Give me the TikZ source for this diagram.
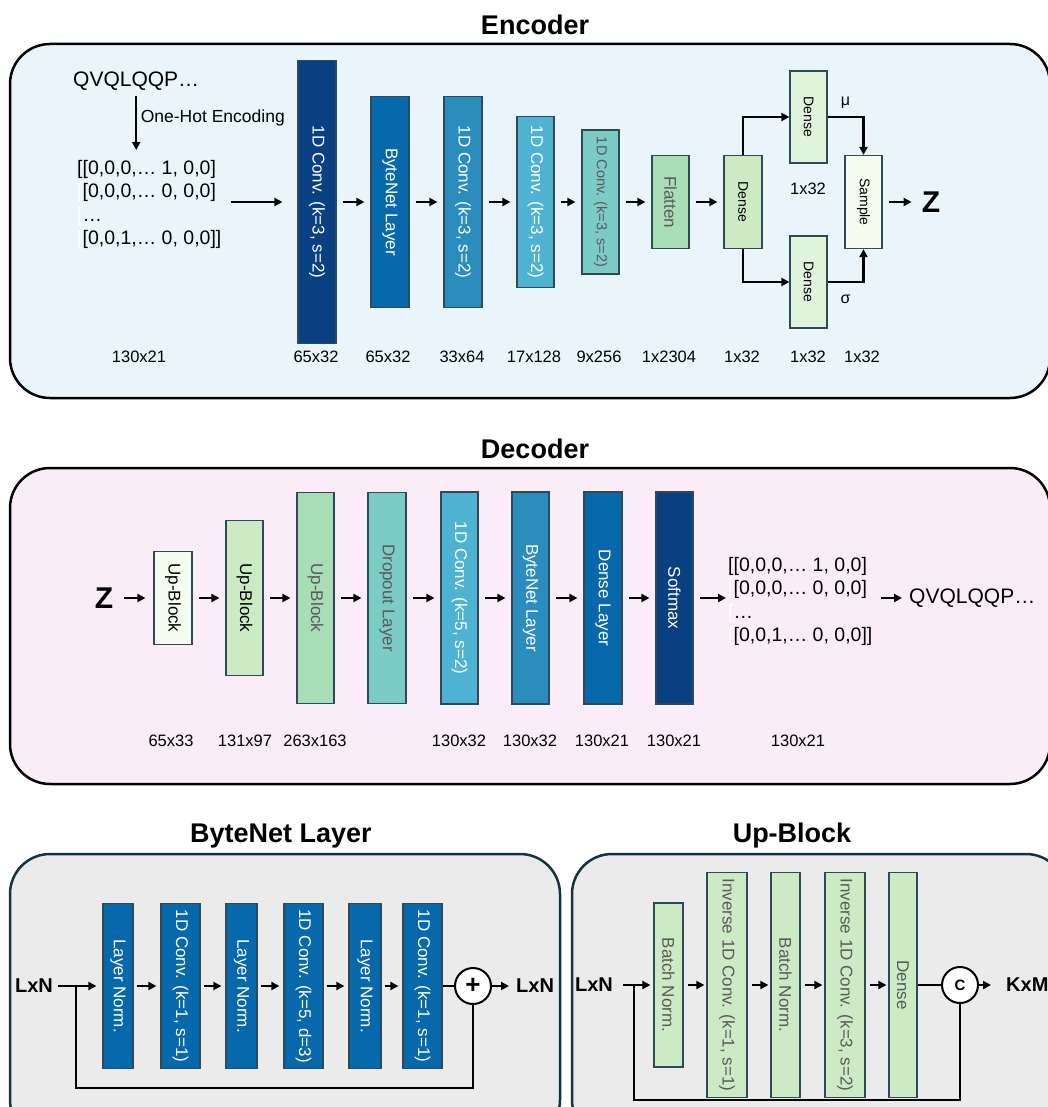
\documentclass[tikz,border=0pt]{standalone}
\usepackage{fontspec}
\setmainfont{Liberation Sans}
\usetikzlibrary{arrows.meta}
\definecolor{gnA}{HTML}{084081}
\definecolor{gnB}{HTML}{0868AC}
\definecolor{gnC}{HTML}{2B8CBE}
\definecolor{gnD}{HTML}{4EB3D3}
\definecolor{gnE}{HTML}{7BCCC4}
\definecolor{gnF}{HTML}{A8DDB5}
\definecolor{gnG}{HTML}{CCEBC5}
\definecolor{gnH}{HTML}{E0F3DB}
\definecolor{gnI}{HTML}{F7FCF0}
\definecolor{encbg}{HTML}{EAF5FB}
\definecolor{decbg}{HTML}{FBEDF7}
\definecolor{subbg}{HTML}{EBEBEB}
\definecolor{subline}{HTML}{16323F}
\definecolor{boxline}{HTML}{2E4A58}
\definecolor{txtgray}{HTML}{595959}
\newcommand{\vtext}[1]{\rotatebox{-90}{#1}}
\newcommand{\fsz}[1]{\fontsize{#1}{#1}\selectfont}
\begin{document}
\begin{tikzpicture}[x=1pt,y=-1pt,
  panel/.style={line width=2.5pt,rounded corners=40pt},
  blk/.style={draw=boxline,line width=1.2pt,inner sep=0pt,font=\fsz{17}},
  arr/.style={line width=2.5pt,-{Triangle[length=8pt,width=8pt]},shorten >=6pt,shorten <=6pt},
  wire/.style={line width=2.5pt},
  tip/.style={line width=2.5pt,-{Triangle[length=8pt,width=8pt]}},
  dim/.style={font=\fsz{16.5}},
  ttl/.style={font=\bfseries\fsz{27}},
  bigz/.style={font=\bfseries\fsz{30},inner sep=0pt},
  io/.style={font=\bfseries\fsz{20},inner sep=0pt},
  mtx/.style={anchor=north west,inner sep=0pt,align=left,font=\fontsize{19.5}{23.5}\selectfont},
  op/.style={circle,draw=black,fill=white,line width=2pt,minimum size=36pt,inner sep=0pt}]
\useasboundingbox (0,0) rectangle (1048,1107);
\clip (0,0) rectangle (1048,1107);
\draw[panel,fill=encbg] (10,44) rectangle (1050,398);
\node[ttl] (enct) at (535,25) {Encoder};
\node[anchor=west,inner sep=0pt,font=\fsz{21}] (seqin) at (73,81) {QVQLQQP…};
\node[mtx] (matin) at (77,160) {[[0,0,0,… 1, 0,0]\\\textcolor{white}{[}[0,0,0,… 0, 0,0]\\\textcolor{white}{[}…\\\textcolor{white}{[}[0,0,1,… 0, 0,0]]};
\draw[arr,shorten <=5pt,shorten >=10pt] (seqin.south) -- (seqin.south |- matin.north) node[pos=0.4,right,font=\fsz{17.5}] (ohe) {One-Hot Encoding};
\node[blk,fill=gnA,text=white,minimum width=38pt,minimum height=283pt] (ec1) at (317,202) {\vtext{1D Conv. (k=3, s=2)}};
\node[blk,fill=gnB,text=white,minimum width=38pt,minimum height=211pt] (ebn) at (390,202) {\vtext{ByteNet Layer}};
\node[blk,fill=gnC,text=white,minimum width=38pt,minimum height=211pt] (ec2) at (463,202) {\vtext{1D Conv. (k=3, s=2)}};
\node[blk,fill=gnD,text=white,minimum width=37pt,minimum height=171pt] (ec3) at (535.5,202) {\vtext{1D Conv. (k=3, s=2)}};
\node[blk,fill=gnE,text=txtgray,font=\fsz{14.5},minimum width=37pt,minimum height=144pt] (ec4) at (600.5,202) {\vtext{1D Conv. (k=3, s=2)}};
\node[blk,fill=gnF,text=txtgray,minimum width=37pt,minimum height=93pt] (efl) at (670.5,202) {\vtext{Flatten}};
\node[blk,fill=gnG,font=\fsz{14},minimum width=38pt,minimum height=93pt] (edn) at (743,202) {\vtext{Dense}};
\node[blk,fill=gnH,font=\fsz{14},minimum width=37pt,minimum height=92pt] (emu) at (808.5,117) {\vtext{Dense}};
\node[blk,fill=gnH,font=\fsz{14},minimum width=37pt,minimum height=92pt] (esg) at (808.5,282) {\vtext{Dense}};
\node[blk,fill=gnI,font=\fsz{14},minimum width=37pt,minimum height=93pt] (esmp) at (863.5,202) {\vtext{Sample}};
\node[bigz] (ez) at (931,202) {Z};
\draw[arr,shorten <=9pt,shorten >=15pt] (matin.east |- ec1) -- (ec1);
\draw[arr] (ec1) -- (ebn);
\draw[arr] (ebn) -- (ec2);
\draw[arr] (ec2) -- (ec3);
\draw[arr] (ec3) -- (ec4);
\draw[arr] (ec4) -- (efl);
\draw[arr] (efl) -- (edn);
\draw[tip] (edn.north) |- (emu.west);
\draw[tip] (edn.south) |- (esg.west);
\draw[tip] (emu.east) -| node[pos=0.25,above=4pt,font=\fsz{16}] (mu) {μ} (esmp.north);
\draw[tip] (esg.east) -| node[pos=0.25,below=8pt,font=\fsz{16}] (sig) {σ} (esmp.south);
\draw[arr,shorten >=10pt] (esmp) -- (ez);
\node[dim] (emid) at (808,189) {1x32};
\node[dim] (ed0) at (139,357) {130x21};
\node[dim] (ed1) at (316,357) {65x32};
\node[dim] (ed2) at (388,357) {65x32};
\node[dim] (ed3) at (462,357) {33x64};
\node[dim] (ed4) at (534,357) {17x128};
\node[dim] (ed5) at (599,357) {9x256};
\node[dim] (ed6) at (669,357) {1x2304};
\node[dim] (ed7) at (742,357) {1x32};
\node[dim] (ed8) at (808,357) {1x32};
\node[dim] (ed9) at (862,357) {1x32};
\draw[panel,fill=decbg] (10,468) rectangle (1050,784);
\node[ttl] (dect) at (535,449) {Decoder};
\node[bigz] (dz) at (104,598) {Z};
\node[blk,fill=gnI,minimum width=38pt,minimum height=93pt] (du1) at (173,598) {\vtext{Up-Block}};
\node[blk,fill=gnG,minimum width=37pt,minimum height=155pt] (du2) at (244.5,598) {\vtext{Up-Block}};
\node[blk,fill=gnF,text=txtgray,minimum width=37pt,minimum height=211pt] (du3) at (315.5,598) {\vtext{Up-Block}};
\node[blk,fill=gnE,text=txtgray,minimum width=38pt,minimum height=211pt] (ddr) at (387,598) {\vtext{Dropout Layer}};
\node[blk,fill=gnD,text=white,minimum width=37pt,minimum height=212pt] (dcv) at (459.5,598) {\vtext{1D Conv. (k=5, s=2)}};
\node[blk,fill=gnC,text=white,minimum width=37pt,minimum height=212pt] (dbn) at (530.5,598) {\vtext{ByteNet Layer}};
\node[blk,fill=gnB,text=white,minimum width=38pt,minimum height=212pt] (ddl) at (603,598) {\vtext{Dense Layer}};
\node[blk,fill=gnA,text=white,minimum width=37pt,minimum height=212pt] (dsm) at (674.5,598) {\vtext{Softmax}};
\node[mtx] (dmat) at (728,557) {[[0,0,0,… 1, 0,0]\\\textcolor{white}{[}[0,0,0,… 0, 0,0]\\\textcolor{white}{[}…\\\textcolor{white}{[}[0,0,1,… 0, 0,0]]};
\node[anchor=west,inner sep=0pt,font=\fsz{21}] (dseq) at (909,598) {QVQLQQP…};
\draw[arr,shorten <=11pt,shorten >=8pt] (dz) -- (du1);
\draw[arr] (du1) -- (du2);
\draw[arr] (du2) -- (du3);
\draw[arr] (du3) -- (ddr);
\draw[arr] (ddr) -- (dcv);
\draw[arr] (dcv) -- (dbn);
\draw[arr] (dbn) -- (ddl);
\draw[arr] (ddl) -- (dsm);
\draw[arr,shorten >=2pt] (dsm) -- (dsm -| dmat.west);
\draw[arr,shorten <=8pt,shorten >=7pt] (dmat.east |- dseq) -- (dseq.west);
\node[dim] (dd0) at (171,741) {65x33};
\node[dim] (dd1) at (245,741) {131x97};
\node[dim] (dd2) at (315,741) {263x163};
\node[dim] (dd3) at (459,741) {130x32};
\node[dim] (dd4) at (530,741) {130x32};
\node[dim] (dd5) at (602,741) {130x21};
\node[dim] (dd6) at (674,741) {130x21};
\node[dim] (dd7) at (798,741) {130x21};
\draw[panel,draw=subline,fill=subbg] (10,854) rectangle (560,1140);
\node[ttl] (bt) at (281,836) {ByteNet Layer};
\node[io] (bin) at (34,986) {LxN};
\node[blk,fill=gnB,text=white,minimum width=30pt,minimum height=165pt] (bln1) at (118,986) {\vtext{Layer Norm.}};
\node[blk,fill=gnB,text=white,minimum width=39pt,minimum height=165pt] (bcv1) at (180.5,986) {\vtext{1D Conv. (k=1, s=1)}};
\node[blk,fill=gnB,text=white,minimum width=31pt,minimum height=165pt] (bln2) at (241.5,986) {\vtext{Layer Norm.}};
\node[blk,fill=gnB,text=white,minimum width=39pt,minimum height=165pt] (bcv2) at (303.5,986) {\vtext{1D Conv. (k=5, d=3)}};
\node[blk,fill=gnB,text=white,minimum width=32pt,minimum height=165pt] (bln3) at (365,986) {\vtext{Layer Norm.}};
\node[blk,fill=gnB,text=white,minimum width=39pt,minimum height=165pt] (bcv3) at (422.5,986) {\vtext{1D Conv. (k=1, s=1)}};
\node[op,font=\bfseries\fsz{26}] (bsum) at (473,986) {+};
\node[io,anchor=west] (bout) at (516,986) {LxN};
\coordinate (bsplit) at (76,986);
\coordinate (bloop) at (76,1088);
\draw[arr,shorten <=5pt] (bin) -- (bln1);
\draw[arr,shorten <=3pt,shorten >=4pt] (bln1) -- (bcv1);
\draw[arr,shorten <=3pt,shorten >=4pt] (bcv1) -- (bln2);
\draw[arr,shorten <=3pt,shorten >=4pt] (bln2) -- (bcv2);
\draw[arr,shorten <=3pt,shorten >=4pt] (bcv2) -- (bln3);
\draw[arr,shorten <=3pt,shorten >=4pt] (bln3) -- (bcv3);
\draw[wire] (bcv3) -- (bsum);
\draw[arr,shorten <=0pt,shorten >=7pt] (bsum) -- (bout);
\draw[wire] (bsplit) -- (bloop) -| (bsum.south);
\draw[panel,draw=subline,fill=subbg] (572,854) rectangle (1066,1140);
\node[ttl] (ut) at (792,836) {Up-Block};
\node[io] (uin) at (594,985) {LxN};
\node[blk,fill=gnG,text=txtgray,minimum width=29pt,minimum height=164pt] (ubn1) at (668.5,985) {\vtext{Batch Norm.}};
\node[blk,fill=gnG,text=txtgray,minimum width=40pt,minimum height=225pt] (uic1) at (727,985) {\vtext{Inverse 1D Conv. (k=1, s=1)}};
\node[blk,fill=gnG,text=txtgray,minimum width=29pt,minimum height=225pt] (ubn2) at (785.5,985) {\vtext{Batch Norm.}};
\node[blk,fill=gnG,text=txtgray,minimum width=40pt,minimum height=225pt] (uic2) at (845,985) {\vtext{Inverse 1D Conv. (k=3, s=2)}};
\node[blk,fill=gnG,text=txtgray,minimum width=28pt,minimum height=225pt] (uden) at (903,985) {\vtext{Dense}};
\node[op,font=\bfseries\fsz{15}] (ucat) at (960,985) {C};
\node[io,anchor=west] (uout) at (1006,985) {KxM};
\coordinate (usplit) at (634,985);
\coordinate (uloop) at (634,1100);
\draw[arr,shorten <=10pt,shorten >=3pt] (uin) -- (ubn1);
\draw[arr,shorten <=4pt,shorten >=2pt] (ubn1) -- (uic1);
\draw[arr,shorten <=4pt,shorten >=2pt] (uic1) -- (ubn2);
\draw[arr,shorten <=4pt,shorten >=2pt] (ubn2) -- (uic2);
\draw[arr,shorten <=4pt,shorten >=2pt] (uic2) -- (uden);
\draw[wire] (uden) -- (ucat);
\draw[arr,shorten <=0pt,shorten >=15pt] (ucat) -- (uout);
\draw[wire] (usplit) -- (uloop) -| (ucat.south);
\end{tikzpicture}
\end{document}
